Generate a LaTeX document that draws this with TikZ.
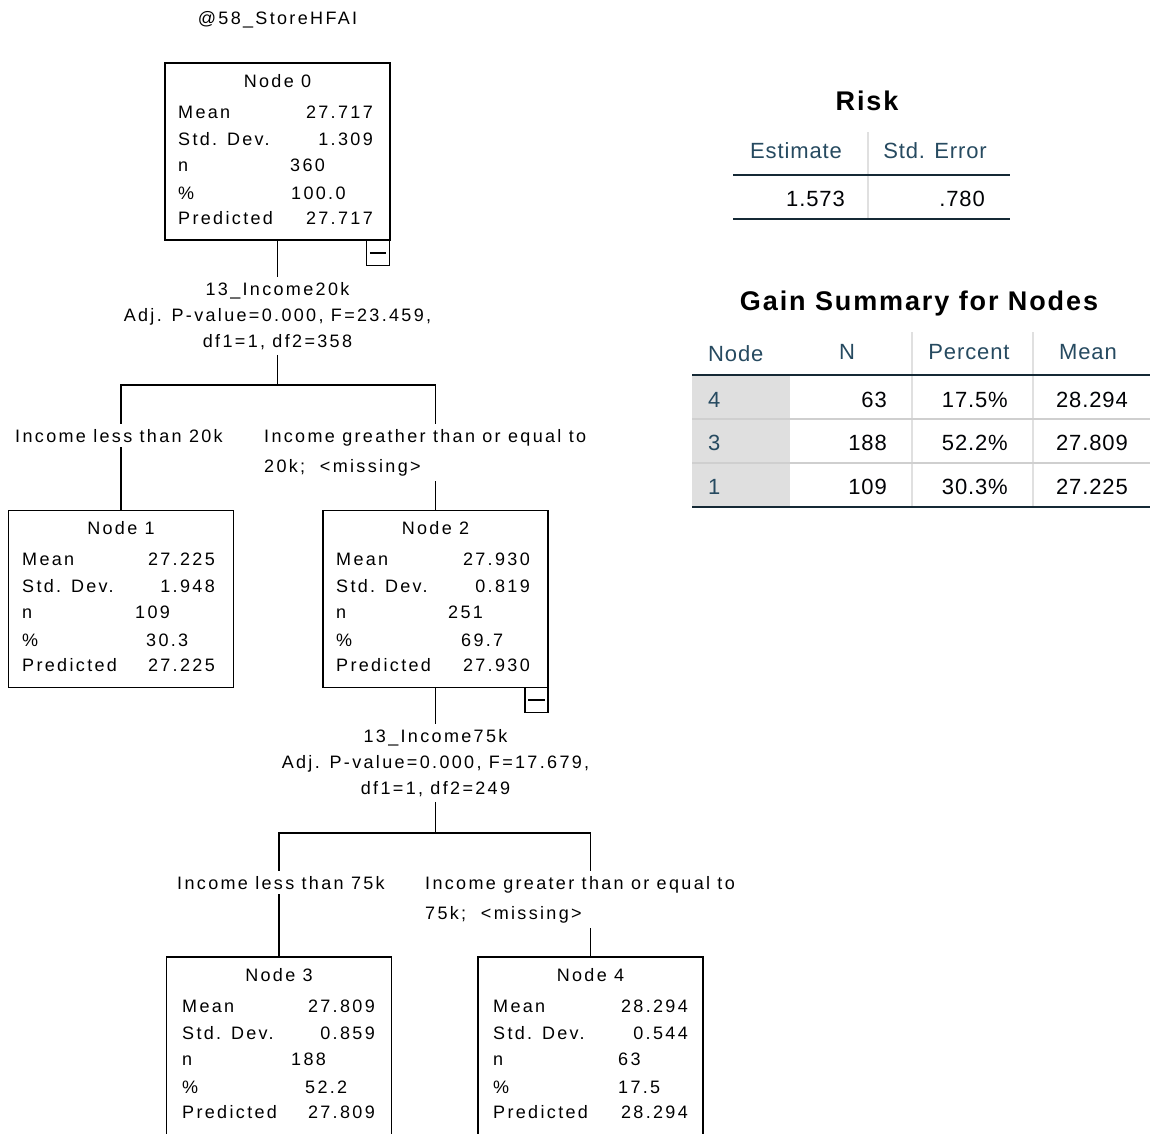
\documentclass[tikz,border=0pt]{standalone}
\usepackage{fontspec}
\newfontfamily\treefont[LetterSpace=13]{Liberation Sans}
\newfontfamily\tabfont[LetterSpace=4]{Liberation Sans}
\newfontfamily\tabtitlefont[LetterSpace=7]{Liberation Sans}
\definecolor{hdrblue}{HTML}{264A60}
\definecolor{valc}{HTML}{010205}
\definecolor{rulec}{HTML}{152935}
\definecolor{rowc}{HTML}{CFCFCF}
\definecolor{colc}{HTML}{E0E0E0}
\definecolor{cellc}{HTML}{DFDFDF}

\begin{document}
\begin{tikzpicture}[x=1pt,y=1pt,yscale=-1,
  box/.style={draw, line width=1.3pt, minimum width=225pt, minimum height=177pt, inner sep=0pt},
  minusbox/.style={draw, fill=white, line width=1.3pt, minimum width=23pt, minimum height=25pt, inner sep=0pt},
  conn/.style={line width=1.3pt},
  tree/.style={font=\treefont\fontsize{18}{20}\selectfont, inner sep=0pt},
  split/.style={font=\treefont\fontsize{18}{26}\selectfont, align=center, inner xsep=0pt, inner ysep=5pt},
  cond/.style={font=\treefont\fontsize{18}{30}\selectfont, align=left, inner xsep=0pt, inner ysep=5pt},
  thead/.style={font=\tabfont\fontsize{22}{26}\selectfont, text=hdrblue, inner sep=0pt},
  tval/.style={font=\tabfont\fontsize{22}{26}\selectfont, text=valc, inner sep=0pt},
  ttitle/.style={font=\tabtitlefont\bfseries\fontsize{27}{30}\selectfont, inner sep=0pt},
  darkrule/.style={draw=rulec, line width=2pt},
  rowrule/.style={draw=rowc, line width=1.5pt},
  colrule/.style={draw=colc, line width=1.5pt}]
\useasboundingbox (0,0) rectangle (1150,1133);
\clip (0,0) rectangle (1150,1133);
\fill[white] (0,0) rectangle (1150,1133);

% Text Node
\node[tree] (ttl) at (277.5,20) {@58\_StoreHFAI};

%Shape: Rectangle [Node 0]
\node[box] (n0) at (277.5,151.5) {};
\node[minusbox] (m0) at (378,253) {};
\draw[conn] ([xshift=4pt]m0.west) -- ([xshift=-4pt]m0.east);
% Text Node
\node[tree, anchor=base] (n0t) at (277.5,87) {Node 0};
\node[tree, anchor=base west] (n0l1) at (178,118) {Mean};
\node[tree, anchor=base west] (n0l2) at (178,145) {Std. Dev.};
\node[tree, anchor=base west] (n0l3) at (178,171) {n};
\node[tree, anchor=base west] (n0l4) at (178,199) {\%};
\node[tree, anchor=base west] (n0l5) at (178,224) {Predicted};
\node[tree, anchor=base east] (n0v1) at (373,118) {27.717};
\node[tree, anchor=base east] (n0v2) at (373,145) {1.309};
\node[tree, anchor=base west] (n0v3) at (290,171) {360};
\node[tree, anchor=base west] (n0v4) at (291,199) {100.0};
\node[tree, anchor=base east] (n0v5) at (373,224) {27.717};

% Text Node
\node[split, anchor=north] (s0) at (277.5,277) {13\_Income20k\\Adj. P-value=0.000, F=23.459,\\df1=1, df2=358};
\coordinate (b0) at (277.5,385);
% Text Node
\node[tree, inner ysep=5pt, anchor=base] (l1) at (119,442) {Income less than 20k};
\node[cond, anchor=north west] (l2) at (264,424) {Income greather than or equal to\\20k;~~<missing>};

%Shape: Rectangle [Node 1]
\node[box] (n1) at (121,599) {};
% Text Node
\node[tree, anchor=base] (n1t) at (121,534) {Node 1};
\node[tree, anchor=base west] (n1l1) at (22,565) {Mean};
\node[tree, anchor=base west] (n1l2) at (22,592) {Std. Dev.};
\node[tree, anchor=base west] (n1l3) at (22,618) {n};
\node[tree, anchor=base west] (n1l4) at (22,646) {\%};
\node[tree, anchor=base west] (n1l5) at (22,671) {Predicted};
\node[tree, anchor=base east] (n1v1) at (215,565) {27.225};
\node[tree, anchor=base east] (n1v2) at (215,592) {1.948};
\node[tree, anchor=base west] (n1v3) at (135,618) {109};
\node[tree, anchor=base west] (n1v4) at (146,646) {30.3};
\node[tree, anchor=base east] (n1v5) at (215,671) {27.225};

%Shape: Rectangle [Node 2]
\node[box] (n2) at (435.5,599) {};
\node[minusbox] (m2) at (536.5,700) {};
\draw[conn] ([xshift=4pt]m2.west) -- ([xshift=-4pt]m2.east);
% Text Node
\node[tree, anchor=base] (n2t) at (435.5,534) {Node 2};
\node[tree, anchor=base west] (n2l1) at (336,565) {Mean};
\node[tree, anchor=base west] (n2l2) at (336,592) {Std. Dev.};
\node[tree, anchor=base west] (n2l3) at (336,618) {n};
\node[tree, anchor=base west] (n2l4) at (336,646) {\%};
\node[tree, anchor=base west] (n2l5) at (336,671) {Predicted};
\node[tree, anchor=base east] (n2v1) at (530,565) {27.930};
\node[tree, anchor=base east] (n2v2) at (530,592) {0.819};
\node[tree, anchor=base west] (n2v3) at (448,618) {251};
\node[tree, anchor=base west] (n2v4) at (461,646) {69.7};
\node[tree, anchor=base east] (n2v5) at (530,671) {27.930};

% Text Node
\node[split, anchor=north] (s2) at (435.5,724) {13\_Income75k\\Adj. P-value=0.000, F=17.679,\\df1=1, df2=249};
\coordinate (b2) at (435.5,833);
% Text Node
\node[tree, inner ysep=5pt, anchor=base] (l3) at (281,889) {Income less than 75k};
\node[cond, anchor=north west] (l4) at (425,871) {Income greater than or equal to\\75k;~~<missing>};

%Shape: Rectangle [Node 3]
\node[box, minimum height=185pt] (n3) at (279,1049.5) {};
% Text Node
\node[tree, anchor=base] (n3t) at (279,981) {Node 3};
\node[tree, anchor=base west] (n3l1) at (182,1012) {Mean};
\node[tree, anchor=base west] (n3l2) at (182,1039) {Std. Dev.};
\node[tree, anchor=base west] (n3l3) at (182,1065) {n};
\node[tree, anchor=base west] (n3l4) at (182,1093) {\%};
\node[tree, anchor=base west] (n3l5) at (182,1118) {Predicted};
\node[tree, anchor=base east] (n3v1) at (375,1012) {27.809};
\node[tree, anchor=base east] (n3v2) at (375,1039) {0.859};
\node[tree, anchor=base west] (n3v3) at (291,1065) {188};
\node[tree, anchor=base west] (n3v4) at (305,1093) {52.2};
\node[tree, anchor=base east] (n3v5) at (375,1118) {27.809};

%Shape: Rectangle [Node 4]
\node[box, minimum height=185pt] (n4) at (590.5,1049.5) {};
% Text Node
\node[tree, anchor=base] (n4t) at (590.5,981) {Node 4};
\node[tree, anchor=base west] (n4l1) at (493,1012) {Mean};
\node[tree, anchor=base west] (n4l2) at (493,1039) {Std. Dev.};
\node[tree, anchor=base west] (n4l3) at (493,1065) {n};
\node[tree, anchor=base west] (n4l4) at (493,1093) {\%};
\node[tree, anchor=base west] (n4l5) at (493,1118) {Predicted};
\node[tree, anchor=base east] (n4v1) at (688,1012) {28.294};
\node[tree, anchor=base east] (n4v2) at (688,1039) {0.544};
\node[tree, anchor=base west] (n4v3) at (618,1065) {63};
\node[tree, anchor=base west] (n4v4) at (618,1093) {17.5};
\node[tree, anchor=base east] (n4v5) at (688,1118) {28.294};

%Straight Lines
\draw[conn] (n0.south) -- (n0.south |- s0.north);
\draw[conn] (s0.south) -- (b0);
\draw[conn] (b0) -| (n1.north |- l1.north);
\draw[conn] (b0) -| (n2.north |- l2.north);
\draw[conn] (n1.north |- l1.south) -- (n1.north);
\draw[conn] (n2.north |- l2.south) -- (n2.north);
\draw[conn] (n2.south) -- (n2.south |- s2.north);
\draw[conn] (s2.south) -- (b2);
\draw[conn] (b2) -| (n3.north |- l3.north);
\draw[conn] (b2) -| (n4.north |- l4.north);
\draw[conn] (n3.north |- l3.south) -- (n3.north);
\draw[conn] (n4.north |- l4.south) -- (n4.north);

% Risk table
\node[ttitle, anchor=base] (risk) at (867,110) {Risk};
\node[thead] (est) at (796,151) {Estimate};
\node[thead] (serr) at (935,151) {Std. Error};
\node[tval, anchor=east] (estv) at (845,199) {1.573};
\node[tval, anchor=east] (serrv) at (985,199) {.780};
\draw[colrule] (868,132) -- (868,219);
\draw[darkrule] (733,175) -- (1010,175);
\draw[darkrule] (733,219) -- (1010,219);

% Gain Summary table
\node[ttitle, anchor=base] (gain) at (919,310) {Gain Summary for Nodes};
\fill[cellc] (692,375) rectangle (790,507);
\node[thead, anchor=west] (hnode) at (708,354) {Node};
\node[thead] (hn) at (847,352) {N};
\node[thead] (hpct) at (969,352) {Percent};
\node[thead] (hmean) at (1088,352) {Mean};
\node[thead, anchor=west] (r1) at (708,400) {4};
\node[tval, anchor=east] (r1n) at (887,400) {63};
\node[tval, anchor=east] (r1p) at (1008,400) {17.5\%};
\node[tval, anchor=east] (r1m) at (1128,400) {28.294};
\node[thead, anchor=west] (r2) at (708,443) {3};
\node[tval, anchor=east] (r2n) at (887,443) {188};
\node[tval, anchor=east] (r2p) at (1008,443) {52.2\%};
\node[tval, anchor=east] (r2m) at (1128,443) {27.809};
\node[thead, anchor=west] (r3) at (708,487) {1};
\node[tval, anchor=east] (r3n) at (887,487) {109};
\node[tval, anchor=east] (r3p) at (1008,487) {30.3\%};
\node[tval, anchor=east] (r3m) at (1128,487) {27.225};
\draw[colrule] (912,332) -- (912,507);
\draw[colrule] (1033,332) -- (1033,507);
\draw[rowrule] (692,419) -- (1150,419);
\draw[rowrule] (692,463) -- (1150,463);
\draw[darkrule] (692,375) -- (1150,375);
\draw[darkrule] (692,507) -- (1150,507);

\end{tikzpicture}
\end{document}
